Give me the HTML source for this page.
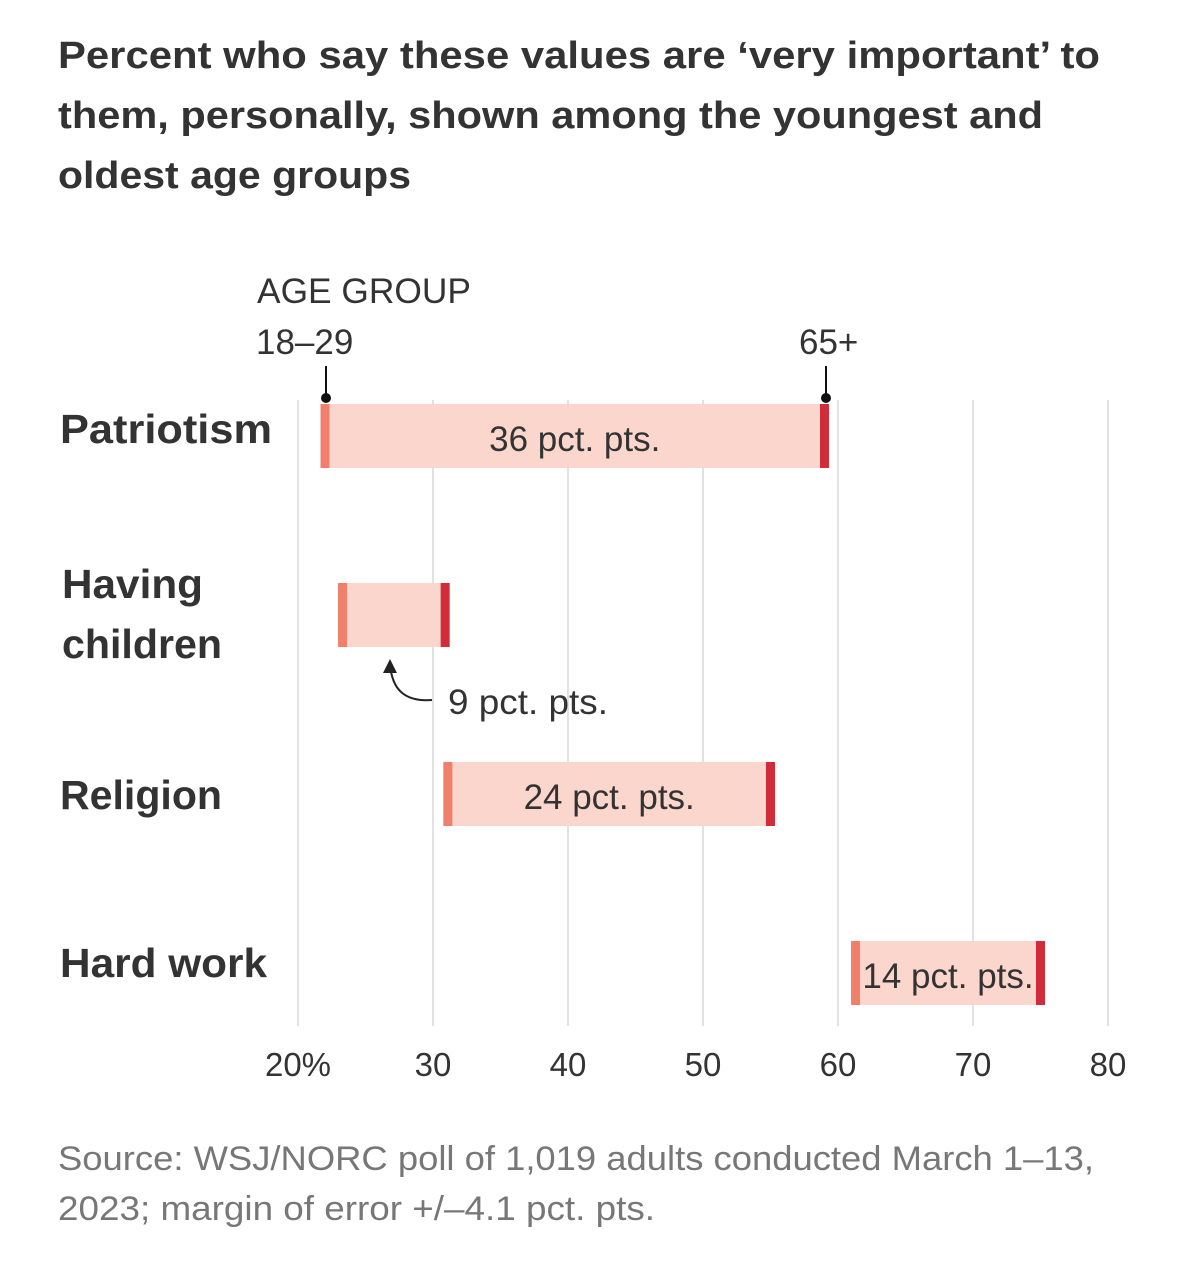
<!DOCTYPE html>
<html><head><meta charset="utf-8"><style>
body{margin:0;background:#fff;width:1179px;height:1256px;overflow:hidden;font-family:"Liberation Sans",sans-serif;}
svg text{font-family:"Liberation Sans",sans-serif;}
</style></head><body>
<svg width="1179" height="1256">
<g font-size="38" font-weight="bold" fill="#333">
<text x="58" y="68" textLength="1042" lengthAdjust="spacingAndGlyphs">Percent who say these values are ‘very important’ to</text>
<text x="58" y="128" textLength="985" lengthAdjust="spacingAndGlyphs">them, personally, shown among the youngest and</text>
<text x="58" y="188" textLength="353" lengthAdjust="spacingAndGlyphs">oldest age groups</text>
</g>
<g id="grid"></g>
<g id="bars"></g>
<g id="labels"></g>
<g fill="#333" font-size="35">
<text x="257" y="303" textLength="214" lengthAdjust="spacingAndGlyphs">AGE GROUP</text>
<text x="256" y="354">18–29</text>
<text x="799" y="354">65+</text>
<line x1="326" y1="366" x2="326" y2="398" stroke="#111" stroke-width="2"/>
<circle cx="326" cy="398" r="5" fill="#111"/>
<line x1="826" y1="366" x2="826" y2="398" stroke="#111" stroke-width="2"/>
<circle cx="826" cy="398" r="5" fill="#111"/>
</g>
<g>
<path d="M432 700 C405 702 392 690 390 664" fill="none" stroke="#222" stroke-width="2"/>
<path d="M383 673 L390 659 L397 673 Z" fill="#222"/>
<text x="448" y="714" font-size="35" fill="#333" textLength="160" lengthAdjust="spacingAndGlyphs">9 pct. pts.</text>
</g>
<g font-size="34" fill="#777">
<text x="58" y="1170" textLength="1036" lengthAdjust="spacingAndGlyphs">Source: WSJ/NORC poll of 1,019 adults conducted March 1–13,</text>
<text x="58" y="1220" textLength="597" lengthAdjust="spacingAndGlyphs">2023; margin of error +/–4.1 pct. pts.</text>
</g>
</svg>
<script>
const categories=["Patriotism","Having children","Religion","Hard work"];
const young=[22,23.3,31.1,61.3];
const old=[59,30.9,55,75];
const gapLabels=["36 pct. pts.","","24 pct. pts.","14 pct. pts."];
const ticks=[20,30,40,50,60,70,80];
const tickLabels=["20%","30","40","50","60","70","80"];
const NS="http://www.w3.org/2000/svg";
const x=v=>298+(v-20)*13.5;
const rowTop=[404,583,762,941];
function mk(t,a,p){const e=document.createElementNS(NS,t);for(const k in a)e.setAttribute(k,a[k]);p.appendChild(e);return e;}
const grid=document.getElementById('grid'),bars=document.getElementById('bars'),labels=document.getElementById('labels');
ticks.forEach((t,i)=>{
 const l=mk('line',{x1:x(t),x2:x(t),y1:400,y2:1026,stroke:'#e2e2e2','stroke-width':2},grid);
 
 
 const tx=mk('text',{x:x(t),y:1076,'text-anchor':'middle','font-size':33,fill:'#333'},grid);
 tx.textContent=tickLabels[i];
 
 
});
const catLines=[["Patriotism"],["Having","children"],["Religion"],["Hard work"]];
const catY=[[443],[598,658],[809],[977]];
const catW=[[212],[141,160],[162],[207]];
categories.forEach((c,i)=>{
 const y=rowTop[i],h=64;
 const r=mk('rect',{x:x(young[i])-4.5,y:y,width:x(old[i])-x(young[i])+9,height:h,fill:'#fbd6cc'},bars);
 
 
 const a=mk('rect',{x:x(young[i])-4.5,y:y,width:9,height:h,fill:'#f0806c'},bars);
 
 
 const b=mk('rect',{x:x(old[i])-4.5,y:y,width:9,height:h,fill:'#d12c3a'},bars);
 
 
 if(gapLabels[i]){
  const t=mk('text',{x:(x(young[i])+x(old[i]))/2,y:y+47,'text-anchor':'middle','font-size':35,fill:'#333'},bars);
  t.textContent=gapLabels[i];
  
  
 }
 catLines[i].forEach((ln,j)=>{
  const t=mk('text',{x:i==1?62:60,y:catY[i][j],'font-size':41,'font-weight':'bold',fill:'#333',textLength:catW[i][j],lengthAdjust:'spacingAndGlyphs'},labels);
  t.textContent=ln;
  
  
 });
});
</script>
</body></html>
